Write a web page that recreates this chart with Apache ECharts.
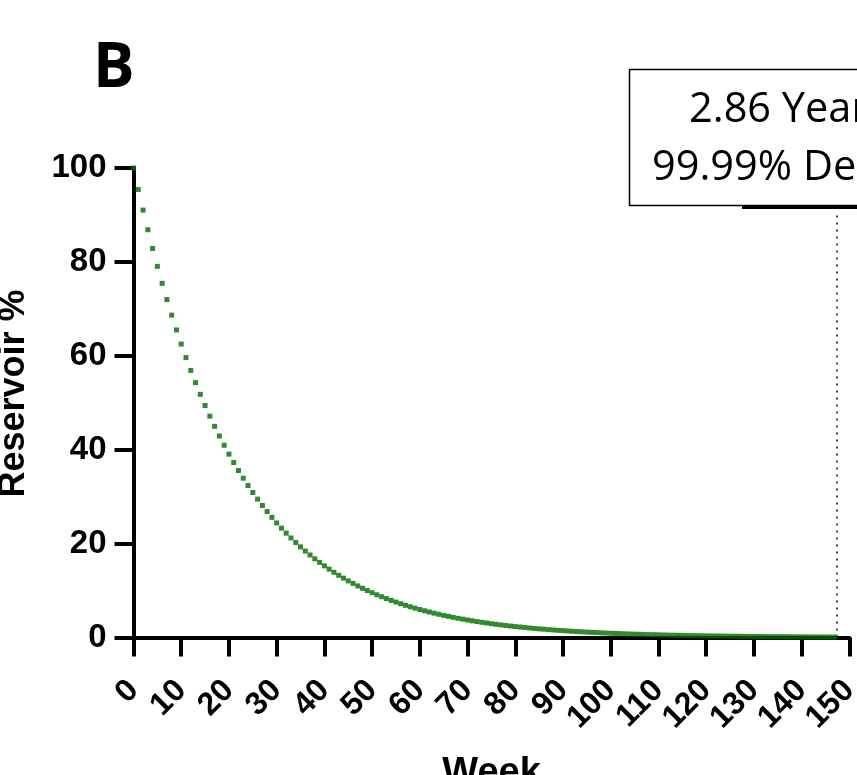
<!DOCTYPE html>
<html>
<head>
<meta charset="utf-8">
<script src="https://cdn.jsdelivr.net/npm/echarts@6/dist/echarts.min.js"></script>
<style>
html,body{margin:0;padding:0;background:#fff;}
#chart{width:857px;height:775px;}
</style>
</head>
<body>
<div id="chart"></div>
<script>
// Week index of each plotted point
const weeks = [];
for (let w = 0; w <= 147; w++) weeks.push(w);
// Reservoir % (one point per week)
const reservoir = [
100,95.41,91.03,86.85,82.86,79.06,75.43,71.97,68.66,65.51,
62.50,59.63,56.89,54.28,51.79,49.41,47.14,44.98,42.91,40.94,
39.06,37.27,35.56,33.93,32.37,30.88,29.47,28.11,26.82,25.59,
24.41,23.29,22.22,21.20,20.23,19.30,18.41,17.57,16.76,15.99,
15.26,14.56,13.89,13.25,12.64,12.06,11.51,10.98,10.48,10.00,
9.54,9.10,8.68,8.28,7.90,7.54,7.19,6.86,6.55,6.25,
5.96,5.69,5.43,5.18,4.94,4.71,4.50,4.29,4.09,3.91,
3.73,3.55,3.39,3.23,3.09,2.94,2.81,2.68,2.56,2.44,
2.33,2.22,2.12,2.02,1.93,1.84,1.76,1.68,1.60,1.52,
1.46,1.39,1.32,1.26,1.20,1.15,1.10,1.05,1.00,0.95,
0.91,0.87,0.83,0.79,0.75,0.72,0.69,0.65,0.62,0.60,
0.57,0.54,0.52,0.49,0.47,0.45,0.43,0.41,0.39,0.37,
0.36,0.34,0.32,0.31,0.29,0.28,0.27,0.26,0.24,0.23,
0.22,0.21,0.20,0.19,0.18,0.18,0.17,0.16,0.15,0.14,
0.14,0.13,0.12,0.12,0.11,0.11,0.10,0.10
];
const xTicks = [0,10,20,30,40,50,60,70,80,90,100,110,120,130,140,150];
const yTicks = [0,20,40,60,80,100];
const decayWeek = 147.4;      // dotted marker position
const markerTop = 90.8;       // top of dotted marker (y value)
const annotLine1 = '2.86 Years';
const annotLine2 = '99.99% Decay';
const panelLabel = 'B';
const xTitle = 'Week';
const yTitle = 'Reservoir %';

const points = weeks.map((w, i) => [w, reservoir[i]]);
const FONT = '"Liberation Sans", Arial, sans-serif';

const chart = echarts.init(document.getElementById('chart'), null, {renderer: 'canvas'});
chart.setOption({
  backgroundColor: '#fff',
  animation: false,
  grid: {left: 133.5, right: 7.7, top: 168, bottom: 137.5, containLabel: false, outerBoundsMode: 'none'},
  xAxis: {
    type: 'value', min: xTicks[0], max: xTicks[xTicks.length - 1], interval: 10,
    splitLine: {show: false},
    axisLine: {show: true, onZero: false, lineStyle: {color: '#000', width: 4}},
    axisTick: {show: true, length: 19, lineStyle: {color: '#000', width: 4}},
    axisLabel: {rotate: 45, margin: 48, color: '#000', fontSize: 32, fontWeight: 'bold', fontFamily: FONT, hideOverlap: false}
  },
  yAxis: {
    type: 'value', min: yTicks[0], max: yTicks[yTicks.length - 1], interval: 20,
    splitLine: {show: false},
    axisLine: {show: true, lineStyle: {color: '#000', width: 4}},
    axisTick: {show: true, length: 19, lineStyle: {color: '#000', width: 4}},
    axisLabel: {margin: 27, color: '#000', fontSize: 33, fontWeight: 'bold', fontFamily: FONT}
  },
  series: [{
    type: 'scatter',
    data: points,
    symbol: 'rect',
    symbolSize: 5,
    itemStyle: {color: '#006c00'},
    z: 5,
    markLine: {
      silent: true, symbol: 'none', label: {show: false},
      lineStyle: {color: '#000', width: 1.5, type: [2, 5]},
      data: [[{coord: [decayWeek, 0]}, {coord: [decayWeek, markerTop]}]]
    }
  }],
  graphic: [
    {type: 'text', left: 93, top: 38, style: {text: panelLabel, font: 'bold 62px "Open Sans", sans-serif', fill: '#000'}},
    {type: 'rect', shape: {x: 629.5, y: 69.5, width: 320, height: 136}, style: {fill: '#fff', stroke: '#000', lineWidth: 1.5}, z: 10},
    {type: 'line', shape: {x1: 742, y1: 207.5, x2: 900, y2: 207.5}, style: {stroke: '#000', lineWidth: 3}, z: 10},
    {type: 'text', x: 689, y: 110, style: {text: annotLine1, font: '41.5px "Open Sans", sans-serif', fill: '#000', textVerticalAlign: 'middle', textAlign: 'left'}, z: 11},
    {type: 'text', x: 652, y: 168, style: {text: annotLine2, font: '41.5px "Open Sans", sans-serif', fill: '#000', textVerticalAlign: 'middle', textAlign: 'left'}, z: 11},
    {type: 'text', x: 14, y: 393.5, rotation: Math.PI / 2, style: {text: yTitle, font: 'bold 36px "Liberation Sans", Arial, sans-serif', fill: '#000', textAlign: 'center', textVerticalAlign: 'middle'}},
    {type: 'text', x: 491.5, y: 774, style: {text: xTitle, font: 'bold 38px "Liberation Sans", Arial, sans-serif', fill: '#000', textAlign: 'center', textVerticalAlign: 'middle'}}
  ]
});
</script>
</body>
</html>
